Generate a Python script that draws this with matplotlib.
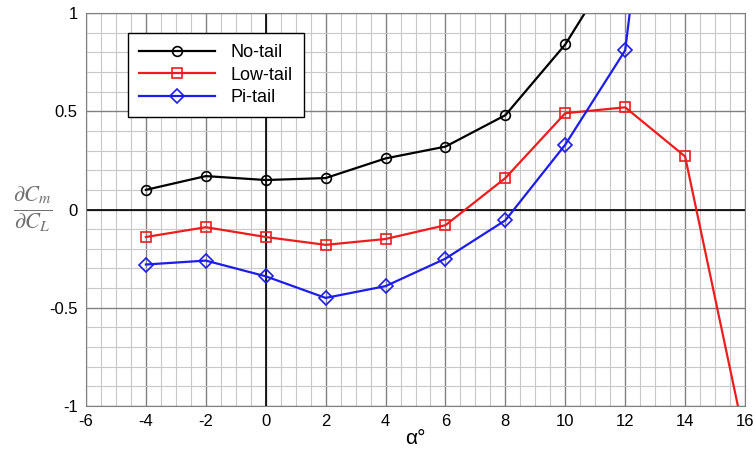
import numpy as np
import matplotlib.pyplot as plt

plt.rcParams['font.family'] = ['Liberation Sans', 'DejaVu Sans']
plt.rcParams['axes.unicode_minus'] = False
plt.rcParams['mathtext.fontset'] = 'stix'

alpha = [-4, -2, 0, 2, 4, 6, 8, 10, 12]
no_tail = [0.10, 0.17, 0.15, 0.16, 0.26, 0.32, 0.48, 0.84, 1.33]
alpha_low = [-4, -2, 0, 2, 4, 6, 8, 10, 12, 14, 16]
low_tail = [-0.14, -0.09, -0.14, -0.18, -0.15, -0.08, 0.16, 0.49, 0.52, 0.27, -1.17]
alpha_pi = [-4, -2, 0, 2, 4, 6, 8, 10, 12, 14]
pi_tail = [-0.28, -0.26, -0.34, -0.45, -0.39, -0.25, -0.055, 0.33, 0.81, 3.3]

fig = plt.figure(figsize=(7.56, 4.57), dpi=100)
ax = fig.add_axes([86/756, 1 - 406/457, 659/756, 393/457])

ax.set_xlim(-6, 16)
ax.set_ylim(-1, 1)
ax.set_xticks(np.arange(-6, 17, 2))
ax.set_xticks(np.arange(-6, 16.01, 0.5), minor=True)
ax.set_yticks([-1, -0.5, 0, 0.5, 1])
ax.set_yticks(np.arange(-1, 1.001, 0.1), minor=True)
ax.set_yticklabels(['-1', '-0.5', '0', '0.5', '1'])
ax.grid(which='minor', color='#c8c8c8', lw=0.8)
ax.grid(which='major', color='#808080', lw=1.0)
ax.axhline(0, color='black', lw=1.2)
ax.axvline(0, color='black', lw=1.2)
ax.tick_params(which='both', length=0, labelsize=12, pad=6)
for s in ax.spines.values():
    s.set_color('#808080')
ax.set_axisbelow(True)

mk = dict(markersize=7, markerfacecolor='none', markeredgewidth=1.2, lw=1.6)
ax.plot(alpha, no_tail, color='black', marker='o', label='No-tail', **mk)
ax.plot(alpha_low, low_tail, color='#ee1c1c', marker='s', label='Low-tail', **mk)
ax.plot(alpha_pi, pi_tail, color='#1c1cee', marker='D', label='Pi-tail', **mk)

leg = ax.legend(loc='upper left', bbox_to_anchor=(42/659, 1 - 20/393), fontsize=13,
                fancybox=False, framealpha=1, edgecolor='black', handlelength=4.2,
                borderpad=0.6, labelspacing=0.32, borderaxespad=0, handletextpad=0.9)
leg.get_frame().set_linewidth(1.0)

ax.set_xlabel('α°', fontsize=15, labelpad=0)
fig.text(0.044, 0.543, r'$\frac{\partial C_m}{\partial C_L}$', fontsize=23,
         color='#707070', ha='center', va='center')

fig.savefig('out.png', dpi=100)
